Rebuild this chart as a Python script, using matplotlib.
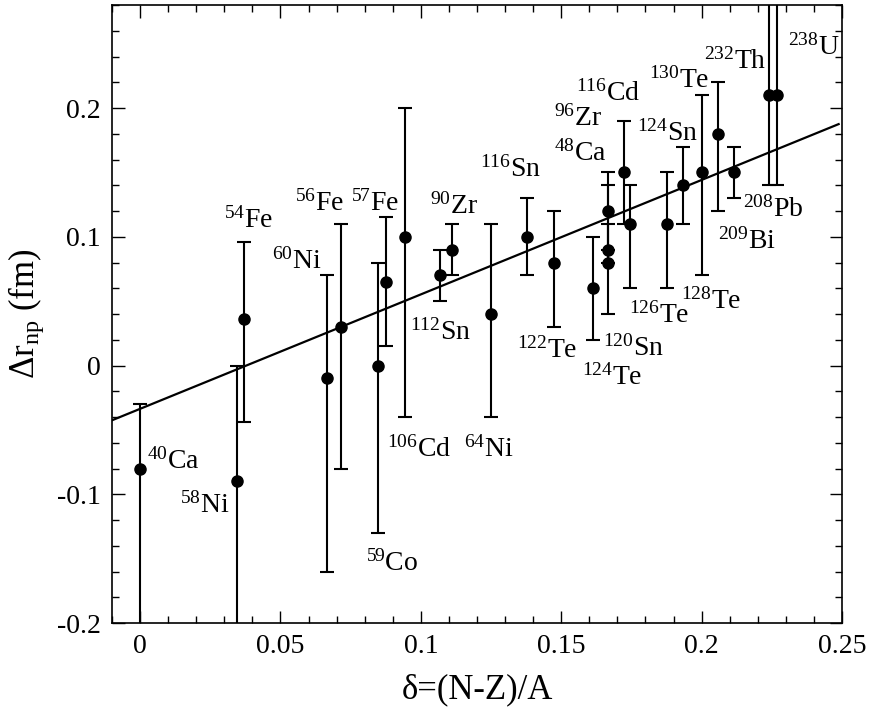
import matplotlib
matplotlib.use("Agg")
import matplotlib.pyplot as plt
from matplotlib.ticker import MultipleLocator
import numpy as np

plt.rcParams['font.family'] = ['Liberation Serif', 'DejaVu Serif']
plt.rcParams['mathtext.fontset'] = 'custom'
plt.rcParams['mathtext.rm'] = 'Liberation Serif'
plt.rcParams['mathtext.it'] = 'Liberation Serif:italic'
plt.rcParams['mathtext.bf'] = 'Liberation Serif:bold'

# nucleus, delta=(N-Z)/A, Delta r_np, lower error, upper error
nuclei = ["40Ca", "58Ni", "54Fe", "60Ni", "56Fe", "59Co", "57Fe", "106Cd",
          "112Sn", "90Zr", "64Ni", "116Sn", "122Te", "124Te", "48Ca", "96Zr",
          "120Sn", "116Cd", "126Te", "128Te", "124Sn", "130Te", "209Bi",
          "208Pb", "232Th", "238U"]
delta = [0.0, 0.0345, 0.037, 0.0667, 0.0714, 0.0847, 0.0877, 0.0943,
         0.107, 0.111, 0.125, 0.1379, 0.1475, 0.1613, 0.1667, 0.1667,
         0.1667, 0.1724, 0.1746, 0.1875, 0.1935, 0.2, 0.2057,
         0.2115, 0.2241, 0.2269]
drnp = [-0.08, -0.09, 0.036, -0.01, 0.03, 0.0, 0.065, 0.10,
        0.07, 0.09, 0.04, 0.10, 0.08, 0.06, 0.12, 0.09,
        0.08, 0.15, 0.11, 0.11, 0.14, 0.15, 0.18,
        0.15, 0.21, 0.21]
err_lo = [0.15, 0.15, 0.08, 0.15, 0.11, 0.13, 0.05, 0.14,
          0.02, 0.02, 0.08, 0.03, 0.05, 0.04, 0.03, 0.01,
          0.04, 0.04, 0.05, 0.05, 0.03, 0.08, 0.06,
          0.02, 0.07, 0.07]
err_hi = [0.05, 0.09, 0.06, 0.08, 0.08, 0.08, 0.05, 0.10,
          0.02, 0.02, 0.07, 0.03, 0.04, 0.04, 0.03, 0.05,
          0.03, 0.04, 0.03, 0.04, 0.03, 0.06, 0.04,
          0.02, 0.10, 0.10]

# linear fit line end points
fit_x = [-0.0105, 0.2488]
fit_y = [-0.043, 0.1875]

# label anchor (left, baseline) in data units
label_pos = {
    "40Ca": (0.0026, -0.0804), "58Ni": (0.0142, -0.1146),
    "54Fe": (0.0300, 0.1068), "60Ni": (0.0471, 0.0752),
    "56Fe": (0.0551, 0.1200), "57Fe": (0.0750, 0.1200),
    "90Zr": (0.1034, 0.1180), "116Sn": (0.1210, 0.1465),
    "112Sn": (0.0960, 0.0200), "96Zr": (0.1475, 0.1860),
    "116Cd": (0.1552, 0.2060), "48Ca": (0.1475, 0.1595),
    "124Sn": (0.1770, 0.1750), "130Te": (0.1814, 0.2160),
    "232Th": (0.2009, 0.2309), "238U": (0.2309, 0.2418),
    "208Pb": (0.2148, 0.1154), "209Bi": (0.2059, 0.0908),
    "128Te": (0.1925, 0.0441), "126Te": (0.1743, 0.0330),
    "120Sn": (0.1648, 0.0078), "122Te": (0.1341, 0.0065),
    "124Te": (0.1573, -0.0148), "106Cd": (0.0879, -0.0708),
    "64Ni": (0.1153, -0.0708), "59Co": (0.0804, -0.1595),
}


def nuc_label(name):
    mass = ''.join(c for c in name if c.isdigit())
    sym = ''.join(c for c in name if c.isalpha())
    return r'$^{%s}$%s' % (mass, sym)


fig = plt.figure(figsize=(8.72, 7.17), dpi=100)
ax = fig.add_axes([0.1284, 0.1311, 0.8372, 0.8619])

ax.plot(fit_x, fit_y, color='black', linewidth=1.6)
ax.errorbar(delta, drnp, yerr=[err_lo, err_hi], fmt='o', color='black',
            markersize=8, elinewidth=1.5, capsize=5, capthick=1.5)

for name in nuclei:
    x, y = label_pos[name]
    ax.text(x, y, nuc_label(name), fontsize=20, ha='left', va='baseline')

ax.set_xlim(-0.01, 0.25)
ax.set_ylim(-0.2, 0.28)
ax.xaxis.set_major_locator(MultipleLocator(0.05))
ax.xaxis.set_minor_locator(MultipleLocator(0.01))
ax.yaxis.set_major_locator(MultipleLocator(0.1))
ax.yaxis.set_minor_locator(MultipleLocator(0.02))
ax.set_xticks([0, 0.05, 0.1, 0.15, 0.2, 0.25])
ax.set_xticklabels(["0", "0.05", "0.1", "0.15", "0.2", "0.25"])
ax.set_yticks([-0.2, -0.1, 0, 0.1, 0.2])
ax.set_yticklabels(["-0.2", "-0.1", "0", "0.1", "0.2"])

ax.tick_params(which='both', direction='in', top=True, right=True,
               labelsize=20, width=1.0)
ax.tick_params(which='major', length=9, pad=8)
ax.tick_params(which='minor', length=5)
for s in ax.spines.values():
    s.set_linewidth(1.2)

ax.set_xlabel('δ=(N-Z)/A', fontsize=25, labelpad=10)
ax.set_ylabel(r'Δr$_{\rm np}$ (fm)', fontsize=25, labelpad=8)

plt.savefig('out.png', dpi=100)
